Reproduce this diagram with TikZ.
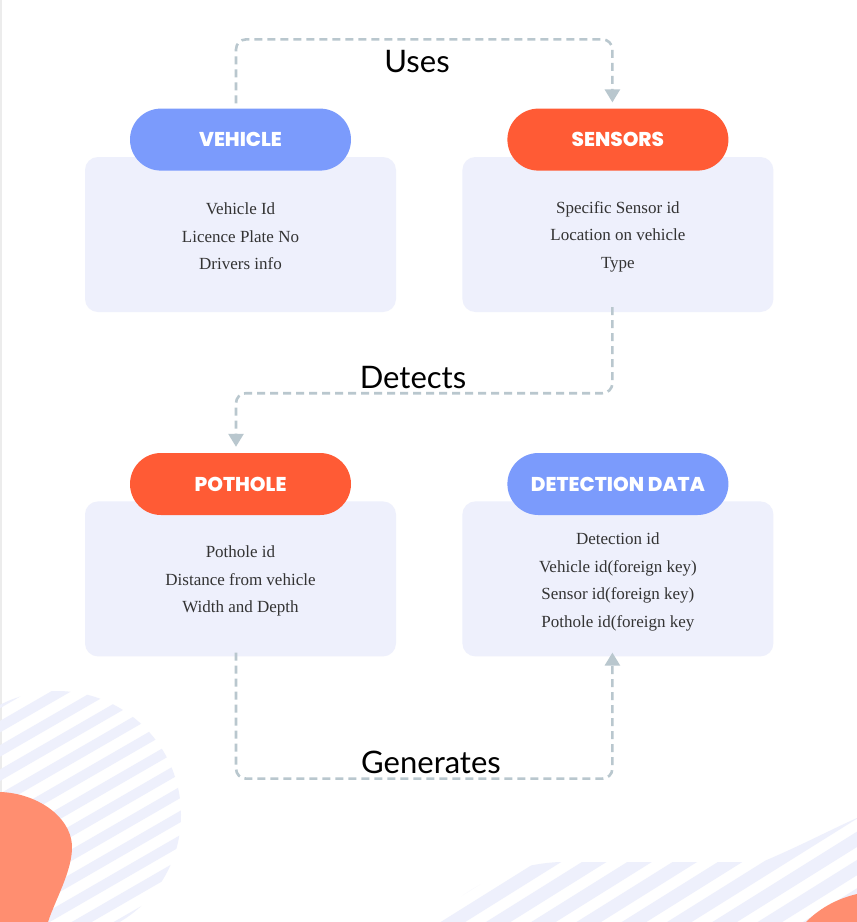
\documentclass[tikz,border=0pt]{standalone}
\usepackage{fontspec}
\setmainfont{Liberation Serif}
\newfontfamily\labelfont{Lato}
\newfontfamily\headfont{Poppins}[BoldFont={Poppins ExtraBold}]
\usetikzlibrary{arrows.meta,positioning}
\definecolor{pillblue}{RGB}{123,155,252}
\definecolor{pillorange}{RGB}{255,91,53}
\definecolor{blobsalmon}{RGB}{255,142,112}
\definecolor{cardfill}{RGB}{238,240,252}
\definecolor{stripefill}{RGB}{238,240,252}
\definecolor{flowgray}{RGB}{185,199,206}
\definecolor{bodygray}{RGB}{51,51,51}
\definecolor{edgegray}{RGB}{236,236,236}
\tikzset{
  pill/.style={fill=#1, rounded corners=31pt, minimum width=221pt, minimum height=62pt,
    inner sep=0pt, text=white, font=\headfont\bfseries\fontsize{20}{24}\selectfont},
  card/.style={fill=cardfill, rounded corners=13pt, minimum width=311pt, minimum height=155pt,
    inner sep=0pt, align=center, text=bodygray, font=\fontsize{17}{27.5}\selectfont},
  flow/.style={draw=flowgray, line width=2.6pt, dash pattern=on 8pt off 5pt,
    rounded corners=10pt, -{Triangle[width=15pt,length=13pt]}},
  linklabel/.style={font=\labelfont\fontsize{31}{36}\selectfont, text=black, inner sep=0pt},
  stripe/.style={draw=stripefill, line width=#1},
  stripe/.default=10pt
}
\begin{document}
\begin{tikzpicture}[x=1pt, y=-1pt]
\useasboundingbox (0,0) rectangle (857,922);
\fill[white] (0,0) rectangle (857,922);
\draw[edgegray, line width=1.5pt] (0.75,0) -- (0.75,922);
% background shapes
\begin{scope}
  \clip (57,815) circle (124pt);
  \begin{scope}[shift={(57,815)}, rotate=30]
    \foreach \k in {-7,...,7} \draw[stripe] (-200,\k*21) -- (200,\k*21);
  \end{scope}
\end{scope}
\fill[blobsalmon] (0,792) .. controls (35,793) and (70,815) .. (72,845)
  .. controls (73,870) and (55,900) .. (48,922) -- (0,922) -- cycle;
\begin{scope}
  \clip (430,922) .. controls (470,885) and (510,864) .. (560,862) -- (762,862)
    .. controls (800,846) and (830,830) .. (857,818) -- (857,922) -- cycle;
  \begin{scope}[shift={(640,890)}, rotate=32]
    \foreach \k in {-8,...,8} \draw[stripe=13pt] (-400,\k*24) -- (400,\k*24);
  \end{scope}
\end{scope}
\fill[blobsalmon] (806,922) .. controls (822,906) and (840,898) .. (857,894) -- (857,922) -- cycle;
% cards and headers
\node[card] (vehiclebox) at (240.5,234.5) {\rule{0pt}{16pt}Vehicle Id\\Licence Plate No\\Drivers info};
\node[card, right=66pt of vehiclebox] (sensorsbox) {\rule{0pt}{16pt}Specific Sensor id\\Location on vehicle\\Type};
\node[card, below=189pt of vehiclebox] (potholebox) {\rule{0pt}{16pt}Pothole id\\Distance from vehicle\\Width and Depth};
\node[card, below=189pt of sensorsbox] (detectionbox) {\rule{0pt}{18pt}Detection id\\Vehicle id(foreign key)\\Sensor id(foreign key)\\Pothole id(foreign key};
\node[pill=pillblue, above=-14pt of vehiclebox.north] (vehicle) {VEHICLE};
\node[pill=pillorange, above=-14pt of sensorsbox.north] (sensors) {SENSORS};
\node[pill=pillorange, above=-14pt of potholebox.north] (pothole) {POTHOLE};
\node[pill=pillblue, above=-14pt of detectionbox.north] (detection) {DETECTION DATA};
% connectors
\draw[flow] ([xshift=-4.5pt,yshift=5pt]vehicle.north) -- ++(0,-64) -| ([xshift=-5.5pt,yshift=6pt]sensors.north);
\draw[flow] ([xshift=-5.5pt,yshift=5pt]sensorsbox.south) -- ++(0,86) -| ([xshift=-4.5pt,yshift=6pt]pothole.north);
\draw[flow] ([xshift=-4.5pt,yshift=4pt]potholebox.south) -- ++(0,126) -| ([xshift=-5.5pt,yshift=4pt]detectionbox.south);
\node[linklabel] (useslabel) at (417,62) {Uses};
\node[linklabel] (detectslabel) at (413,378) {Detects};
\node[linklabel] (generateslabel) at (431,762) {Generates};
\end{tikzpicture}
\end{document}
